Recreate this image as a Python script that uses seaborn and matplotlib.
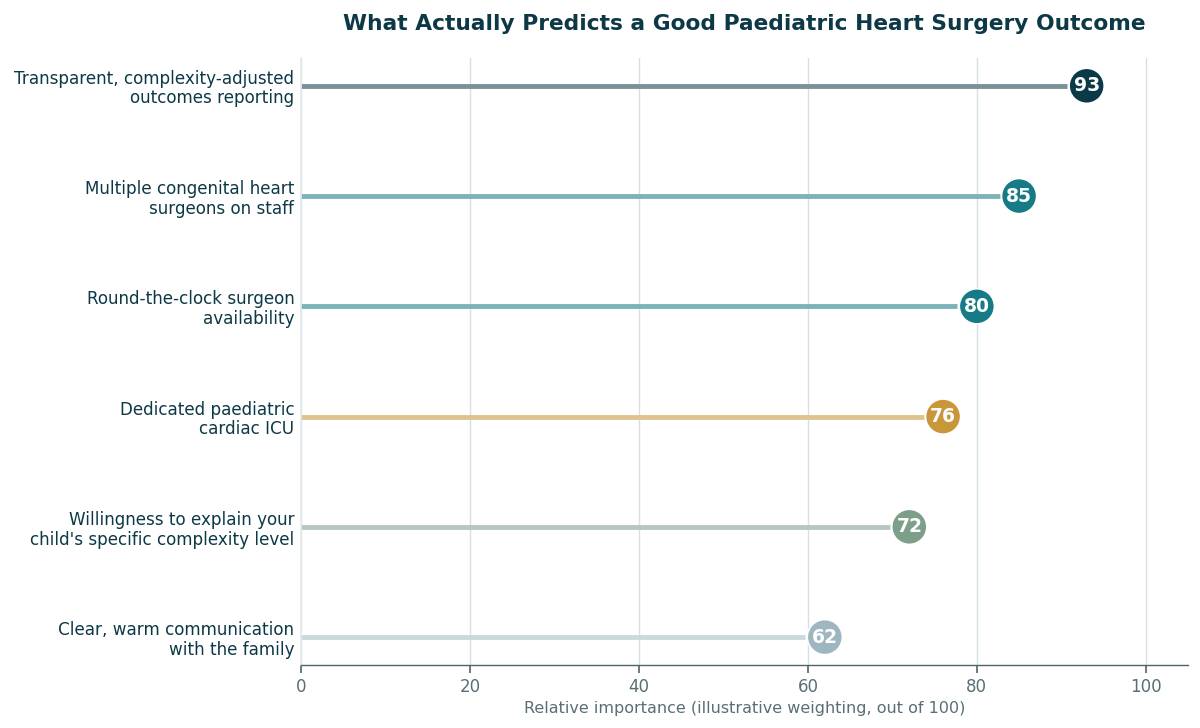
import matplotlib
matplotlib.use("Agg")
import matplotlib.pyplot as plt
import seaborn as sns
import pandas as pd

categories = [
    "Transparent, complexity-adjusted\noutcomes reporting",
    "Multiple congenital heart\nsurgeons on staff",
    "Round-the-clock surgeon\navailability",
    "Dedicated paediatric\ncardiac ICU",
    "Willingness to explain your\nchild's specific complexity level",
    "Clear, warm communication\nwith the family",
]
values = [93, 85, 80, 76, 72, 62]
dot_colors = ["#0b3948", "#167a87", "#167a87", "#c9963a", "#7d9e88", "#9db6bf"]
line_colors = ["#7a9199", "#7ab3ba", "#7ab3ba", "#e0c28c", "#b6c7c0", "#cbd9dd"]
xticks = [0, 20, 40, 60, 80, 100]

sns.set_theme(style="white")
plt.rcParams['font.family'] = ['DejaVu Sans']

df = pd.DataFrame({"factor": categories, "value": values, "pos": range(len(values))})

fig, ax = plt.subplots(figsize=(12, 7.28), dpi=100)
fig.subplots_adjust(left=0.251, right=0.99, top=0.92, bottom=0.087)

ax.set_axisbelow(True)
ax.grid(axis="x", color="#d5e0e3", linewidth=1)

for i, (v, lc) in enumerate(zip(values, line_colors)):
    ax.hlines(i, 0, v - 2.3, color=lc, linewidth=3.5, zorder=2)

sns.scatterplot(data=df, x="value", y="pos", hue="factor", palette=dot_colors,
                s=640, legend=False, ax=ax, zorder=3, edgecolor="white", linewidth=1.2)

for i, v in enumerate(values):
    ax.text(v, i, str(v), ha="center", va="center", color="white",
            fontsize=13.5, fontweight="bold", zorder=4)

ax.set_xlim(0, 105)
ax.set_ylim(len(values) - 0.75, -0.25)
ax.set_yticks(range(len(values)))
ax.set_yticklabels(categories, fontsize=12.1, color="#0d3846", linespacing=1.12)
ax.set_xticks(xticks)
ax.set_xticklabels([str(t) for t in xticks], fontsize=12, color="#5a6e75")
ax.tick_params(axis="x", bottom=True, length=6, color="#4f646b", width=1.2, direction="out")
ax.tick_params(axis="y", left=False, length=0, pad=5)
ax.set_xlabel("Relative importance (illustrative weighting, out of 100)",
              fontsize=11.5, color="#5a6e75")
ax.set_ylabel("")
ax.set_title("What Actually Predicts a Good Paediatric Heart Surgery Outcome",
             fontsize=15.7, fontweight="bold", color="#0d3846", pad=20)

for s in ["top", "right"]:
    ax.spines[s].set_visible(False)
ax.spines["left"].set_color("#e3eaec")
ax.spines["bottom"].set_color("#4f646b")
ax.spines["bottom"].set_linewidth(1)

fig.savefig("out.png", dpi=100, facecolor="white")
